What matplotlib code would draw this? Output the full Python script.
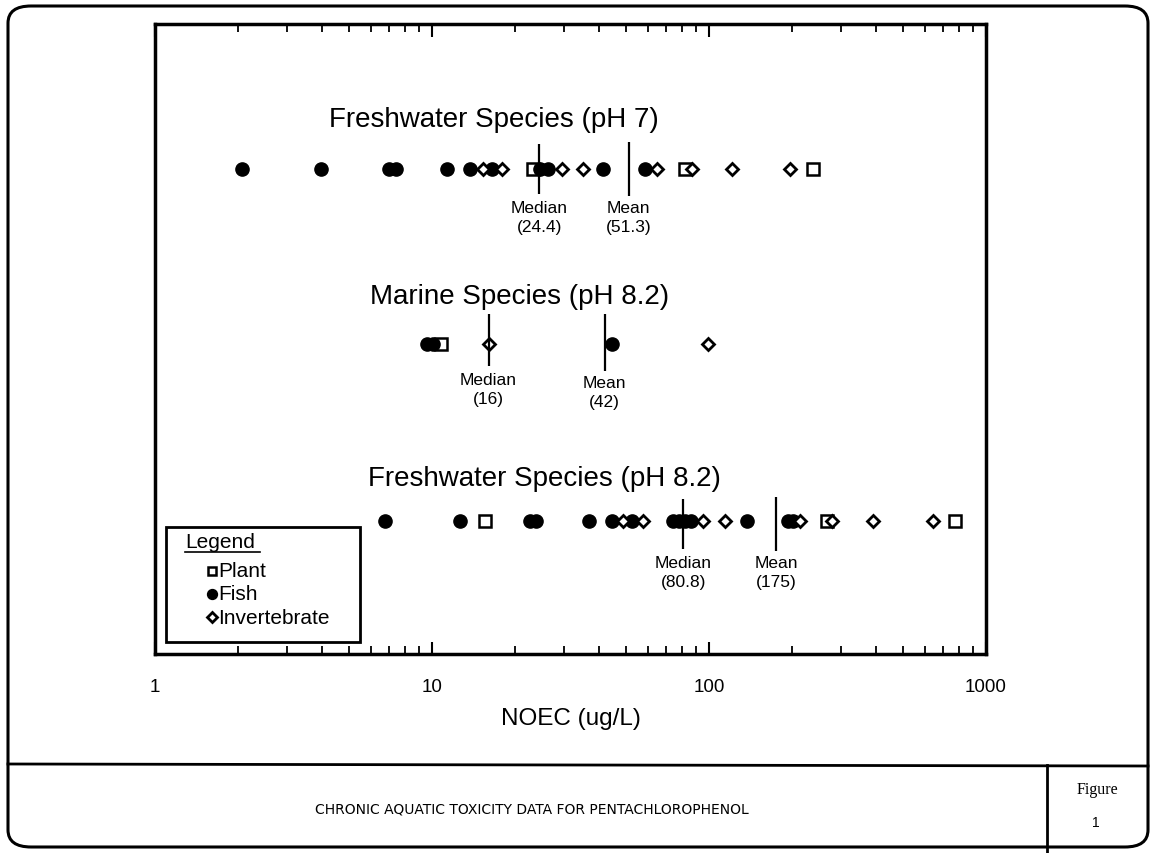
import matplotlib.pyplot as plt
from matplotlib.patches import FancyBboxPatch
from matplotlib.lines import Line2D
from matplotlib.transforms import blended_transform_factory
import matplotlib.ticker as mticker

plt.rcParams['font.family'] = ['Liberation Sans', 'DejaVu Sans']

# NOEC values (ug/L)
fw7_fish = [2.06, 3.97, 7.0, 7.4, 11.3, 13.7, 16.5, 24.6, 26.2, 41.4, 58.7]
fw7_invert = [15.3, 17.9, 29.5, 35.1, 64.9, 86.8, 121, 196]
fw7_plant = [23.2, 81.9, 237]
fw7_median, fw7_mean = 24.4, 51.3

marine_fish = [9.6, 10.1, 44.7]
marine_invert = [16.0, 99]
marine_plant = [10.8]
marine_median, marine_mean = 16, 42

fw82_fish = [6.77, 12.6, 22.5, 23.8, 36.9, 44.7, 52.7, 74, 78, 82, 86, 137, 193, 201]
fw82_invert = [48.9, 57.8, 95, 114, 213, 278, 391, 644]
fw82_plant = [15.5, 267, 773]
fw82_median, fw82_mean = 80.8, 175

W, H = 1154, 854
fig = plt.figure(figsize=(W / 100, H / 100), dpi=100)


def fx(px):
    return px / W


def fy(py):
    return 1 - py / H


# page frame
fig.patches.append(FancyBboxPatch((fx(8), fy(848)), fx(1148) - fx(8), fy(7) - fy(848),
                                  boxstyle="round,pad=0,rounding_size=0.02",
                                  transform=fig.transFigure, fill=False, lw=2.2, ec='black'))
fig.add_artist(Line2D([fx(8), fx(1148)], [fy(765), fy(767)], color='black', lw=2))
fig.add_artist(Line2D([fx(1047), fx(1047)], [fy(766), fy(854)], color='black', lw=2))

ax = fig.add_axes([fx(155), fy(655), fx(986) - fx(155), fy(25) - fy(655)])
ax.set_xscale('log')
ax.set_xlim(1, 1000)
ax.set_ylim(655, 25)  # vertical axis used only for row placement
for s in ax.spines.values():
    s.set_linewidth(2.5)
ax.set_yticks([])
ax.xaxis.set_major_formatter(mticker.FuncFormatter(lambda v, p: f"{v:g}"))
ax.tick_params(axis='x', which='major', direction='in', top=True, length=9, width=1.5,
               labelsize=13.5, pad=17)
ax.tick_params(axis='x', which='minor', direction='in', top=True, length=6, width=1.3)
ax.set_xlabel('NOEC (ug/L)', fontsize=17.5, labelpad=9)

fish_kw = dict(marker='o', ms=9.5, color='black', ls='none', zorder=3)
inv_kw = dict(marker='D', ms=6.5, mfc='white', mec='black', mew=2, ls='none', zorder=4)
plant_kw = dict(marker='s', ms=8.5, mfc='white', mec='black', mew=1.8, ls='none', zorder=2)

rows = [
    (170, "Freshwater Species (pH 7)", 0.408, 120, fw7_fish, fw7_invert, fw7_plant,
     fw7_median, fw7_mean, (145, 195), (143, 197)),
    (345, "Marine Species (pH 8.2)", 0.439, 297, marine_fish, marine_invert, marine_plant,
     marine_median, marine_mean, (315, 367), (315, 372)),
    (522, "Freshwater Species (pH 8.2)", 0.469, 479, fw82_fish, fw82_invert, fw82_plant,
     fw82_median, fw82_mean, (500, 550), (498, 552)),
]

title_tr = blended_transform_factory(ax.transAxes, ax.transData)
for y, title, tx, ty, fish, inv, plant, med, mean, med_span, mean_span in rows:
    ax.text(tx, ty, title, transform=title_tr, ha='center', va='center', fontsize=20)
    ax.plot(plant, [y] * len(plant), **plant_kw)
    ax.plot(fish, [y] * len(fish), **fish_kw)
    ax.plot(inv, [y] * len(inv), **inv_kw)
    ax.vlines(med, *med_span, color='black', lw=1.6, zorder=5)
    ax.vlines(mean, *mean_span, color='black', lw=1.6, zorder=5)
    ax.text(med, med_span[1] + 6, f"Median\n({med:g})", ha='center', va='top',
            fontsize=12.5, linespacing=1.3)
    ax.text(mean, mean_span[1] + 4, f"Mean\n({mean:g})", ha='center', va='top',
            fontsize=12.5, linespacing=1.3)

# legend box
fig.patches.append(plt.Rectangle((fx(166), fy(643)), fx(360) - fx(166), fy(528) - fy(643),
                                 transform=fig.transFigure, fill=True, fc='white',
                                 ec='black', lw=2, zorder=10))
fig.text(fx(185), fy(543), "Legend", fontsize=15, va='center', zorder=11)
fig.add_artist(Line2D([fx(185), fx(260)], [fy(553), fy(553)], color='black', lw=1.2, zorder=11))
leg_items = [("Plant", plant_kw, 572), ("Fish", fish_kw, 595), ("Invertebrate", inv_kw, 618)]
for label, kw, py in leg_items:
    k = dict(kw)
    k['ms'] = k['ms'] * 0.75
    k['zorder'] = 12
    fig.add_artist(Line2D([fx(212)], [fy(py)], transform=fig.transFigure, **k))
    fig.text(fx(218), fy(py), label, fontsize=15, va='center', zorder=12)

fig.text(fx(532), fy(810), "CHRONIC AQUATIC TOXICITY DATA FOR PENTACHLOROPHENOL",
         fontsize=10, family='DejaVu Sans', ha='center', va='center')
fig.text(fx(1097), fy(790), "Figure", fontsize=11.5, family='Liberation Serif',
         ha='center', va='center')
fig.text(fx(1096), fy(823), "1", fontsize=10, ha='center', va='center')

fig.savefig('out.png', dpi=100)
